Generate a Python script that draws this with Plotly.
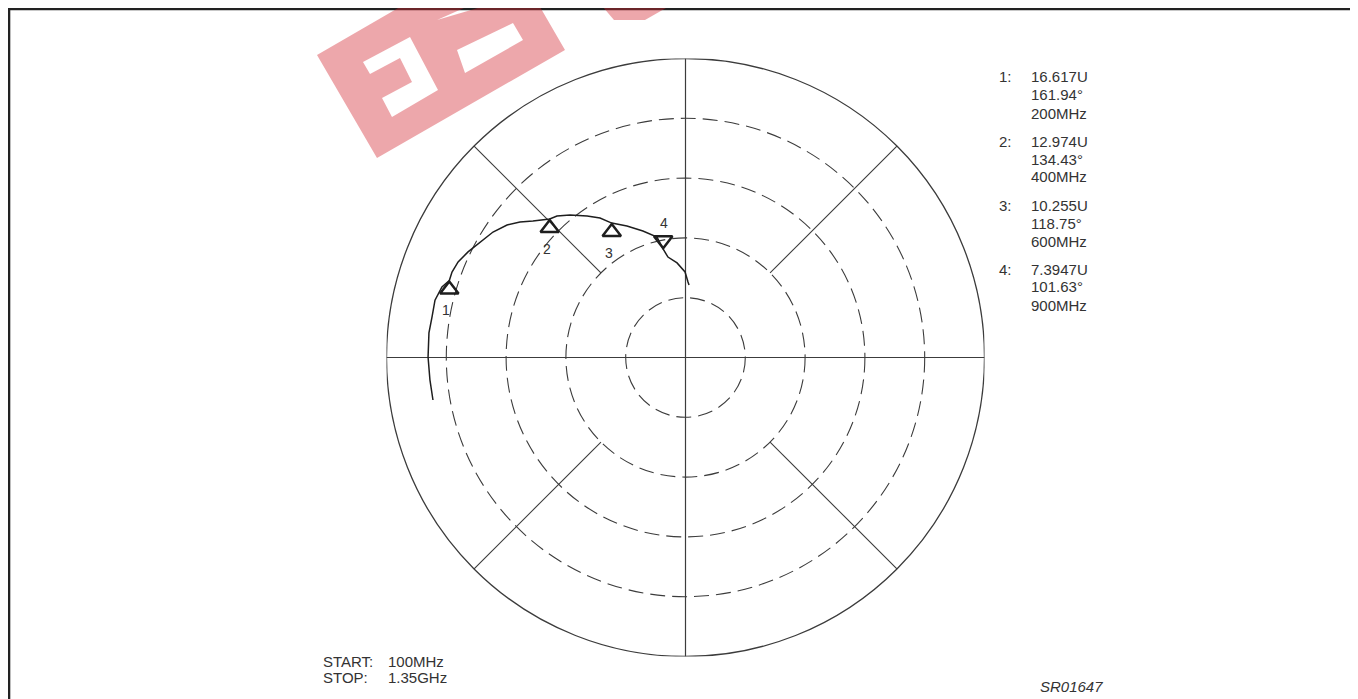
import numpy as np
import plotly.graph_objects as go

# page is 1358x699; the html body adds an 8px margin, so the figure is placed at (8, 8)
OFF = 8
W, H = 1358 - OFF, 699 - OFF

# ---------------- data ----------------
# swept trace (magnitude in U, angle in degrees), 100 MHz .. 1.35 GHz
trace_mag = [17.13, 17.16, 17.22, 17.24, 17.17, 17.19, 16.96, 16.617, 16.63, 16.50,
             16.17, 15.77, 15.37, 14.87, 14.31, 13.69, 12.974, 12.79, 12.27, 11.53,
             10.94, 10.255, 9.63, 8.93, 8.28, 7.3947, 6.82, 6.35, 5.72, 5.05, 4.85]
trace_ang = [-170.45, -175.0, 179.9, 174.5, 170.9, 167.1, 163.85, 161.94, 159.9, 157.2,
             154.1, 150.7, 146.9, 143.4, 140.7, 138.2, 134.43, 132.25, 129.0, 124.8,
             121.5, 118.75, 114.0, 108.6, 103.3, 101.63, 99.9, 95.1, 90.3, 88.1, 87.2]

marker_no = [1, 2, 3, 4]
marker_mag = [16.617, 12.974, 10.255, 7.3947]
marker_ang = [161.94, 134.43, 118.75, 101.63]
marker_freq = ["200MHz", "400MHz", "600MHz", "900MHz"]
marker_dir = ["up", "up", "up", "down"]

start_label = "100MHz"
stop_label = "1.35GHz"
fig_id = "SR01647"

ring_radii = [4, 8, 12, 16]
outer_radius = 20
spoke_angles = [45, 135, 225, 315]
spoke_inner = 8

# ---------------- helpers ----------------
def pol2xy(r, a):
    r = np.asarray(r, float)
    a = np.deg2rad(np.asarray(a, float))
    return r * np.cos(a), r * np.sin(a)

def px(x):          # page pixel -> paper x
    return (x - OFF) / W

def py(y):          # page pixel -> paper y
    return 1 - (y - OFF) / H

GRID = "#3c3c3c"
INK = "#1e1e1e"
TXT = "#333333"
FONT = "Liberation Sans, Arial, sans-serif"
FS = 15

fig = go.Figure()

# trace
tx, ty = pol2xy(trace_mag, trace_ang)
fig.add_trace(go.Scatter(x=tx, y=ty, mode="lines",
                         line=dict(color=INK, width=1.5), hoverinfo="skip",
                         showlegend=False))

# markers (apex of triangle on the data point)
mx, my = pol2xy(marker_mag, marker_ang)
msize = 16
fig.add_trace(go.Scatter(
    x=mx, y=my, mode="markers",
    marker=dict(symbol="triangle-up-open", size=msize,
                color=INK, line=dict(color=INK, width=2.5),
                angle=[0 if d == "up" else 180 for d in marker_dir],
                standoff=msize / 2 + 1),
    hoverinfo="skip", showlegend=False))

# marker number labels
for n, x, y, d in zip(marker_no, mx, my, marker_dir):
    fig.add_annotation(x=x, y=y, xref="x", yref="y", text=str(n), showarrow=False,
                       xshift=-3 if d == "up" else 1, yshift=-30 if d == "up" else 26,
                       font=dict(family=FONT, size=14, color=TXT))

# grid
shapes = []
for r in ring_radii:
    shapes.append(dict(type="circle", xref="x", yref="y", x0=-r, y0=-r, x1=r, y1=r,
                       line=dict(color=GRID, width=1.1, dash="15px,7px"), layer="below"))
shapes.append(dict(type="circle", xref="x", yref="y", x0=-outer_radius, y0=-outer_radius,
                   x1=outer_radius, y1=outer_radius,
                   line=dict(color=GRID, width=1.3), layer="below"))
shapes.append(dict(type="line", xref="x", yref="y", x0=-outer_radius, y0=0, x1=outer_radius, y1=0,
                   line=dict(color=GRID, width=1.2), layer="below"))
shapes.append(dict(type="line", xref="x", yref="y", x0=0, y0=-outer_radius, x1=0, y1=outer_radius,
                   line=dict(color=GRID, width=1.2), layer="below"))
for a in spoke_angles:
    (x0, x1), (y0, y1) = pol2xy([spoke_inner, outer_radius], [a, a])
    shapes.append(dict(type="line", xref="x", yref="y", x0=x0, y0=y0, x1=x1, y1=y1,
                       line=dict(color=GRID, width=1.1), layer="below"))

# frame
shapes.append(dict(type="rect", xref="paper", yref="paper",
                   x0=px(9), y0=py(730), x1=px(1352.5), y1=py(9),
                   line=dict(color="#222222", width=2.6), layer="above"))

# watermark (semi-transparent logo at top)
def poly(pts):
    return "M" + "L".join(f"{px(x):.5f},{py(y):.5f}" for x, y in pts) + "Z"

wm_outer = [(317, 55), (412, 0), (536, 0), (565, 50), (377, 158)]
wm_hole1 = [(363, 62), (410, 37), (438, 90), (392, 117), (382, 98), (412, 82), (400, 58), (370, 74)]
wm_hole2 = [(457, 50), (513, 23), (523, 40), (465, 73)]
wm_hole3 = [(437, 20), (505, 0), (482, 0)]
wm_block = [(597, 0), (680, 0), (645, 20), (614, 20)]
shapes.append(dict(type="path", xref="paper", yref="paper",
                   path=poly(wm_outer) + poly(wm_hole1) + poly(wm_hole2) + poly(wm_hole3),
                   fillrule="evenodd", fillcolor="rgba(212,42,52,0.41)",
                   line=dict(width=0), layer="above"))
shapes.append(dict(type="path", xref="paper", yref="paper", path=poly(wm_block),
                   fillcolor="rgba(212,42,52,0.41)", line=dict(width=0), layer="above"))

def txt(x, y, s, size=FS, anchor="left"):
    fig.add_annotation(x=px(x), y=py(y), xref="paper", yref="paper", text=s,
                       showarrow=False, xanchor=anchor, yanchor="middle",
                       font=dict(family=FONT, size=size, color=TXT))

# marker readout
y_top = 77
for i, (n, m, a, f) in enumerate(zip(marker_no, marker_mag, marker_ang, marker_freq)):
    yc = y_top + 64 * i
    txt(997, yc, f"{n}:")
    txt(1029, yc, f"{m:.5g}U")
    txt(1029, yc + 18, f"{a:.2f}°")
    txt(1029, yc + 36, f)

txt(321, 661, "START:")
txt(386, 661, start_label)
txt(321, 677, "STOP:")
txt(386, 677, stop_label)
txt(1038, 686, f"<i>{fig_id}</i>")

cx, cy, R = 685.5, 357.5, 299
fig.update_layout(
    width=W, height=H,
    margin=dict(l=0, r=0, t=0, b=0),
    paper_bgcolor="white", plot_bgcolor="white",
    shapes=shapes,
    xaxis=dict(domain=[px(cx - R), px(cx + R)], range=[-outer_radius, outer_radius],
               visible=False, showgrid=False, zeroline=False, fixedrange=True),
    yaxis=dict(domain=[py(cy + R), py(cy - R)], range=[-outer_radius, outer_radius],
               visible=False, showgrid=False, zeroline=False, fixedrange=True),
    showlegend=False,
)

fig.write_html("out.html")
